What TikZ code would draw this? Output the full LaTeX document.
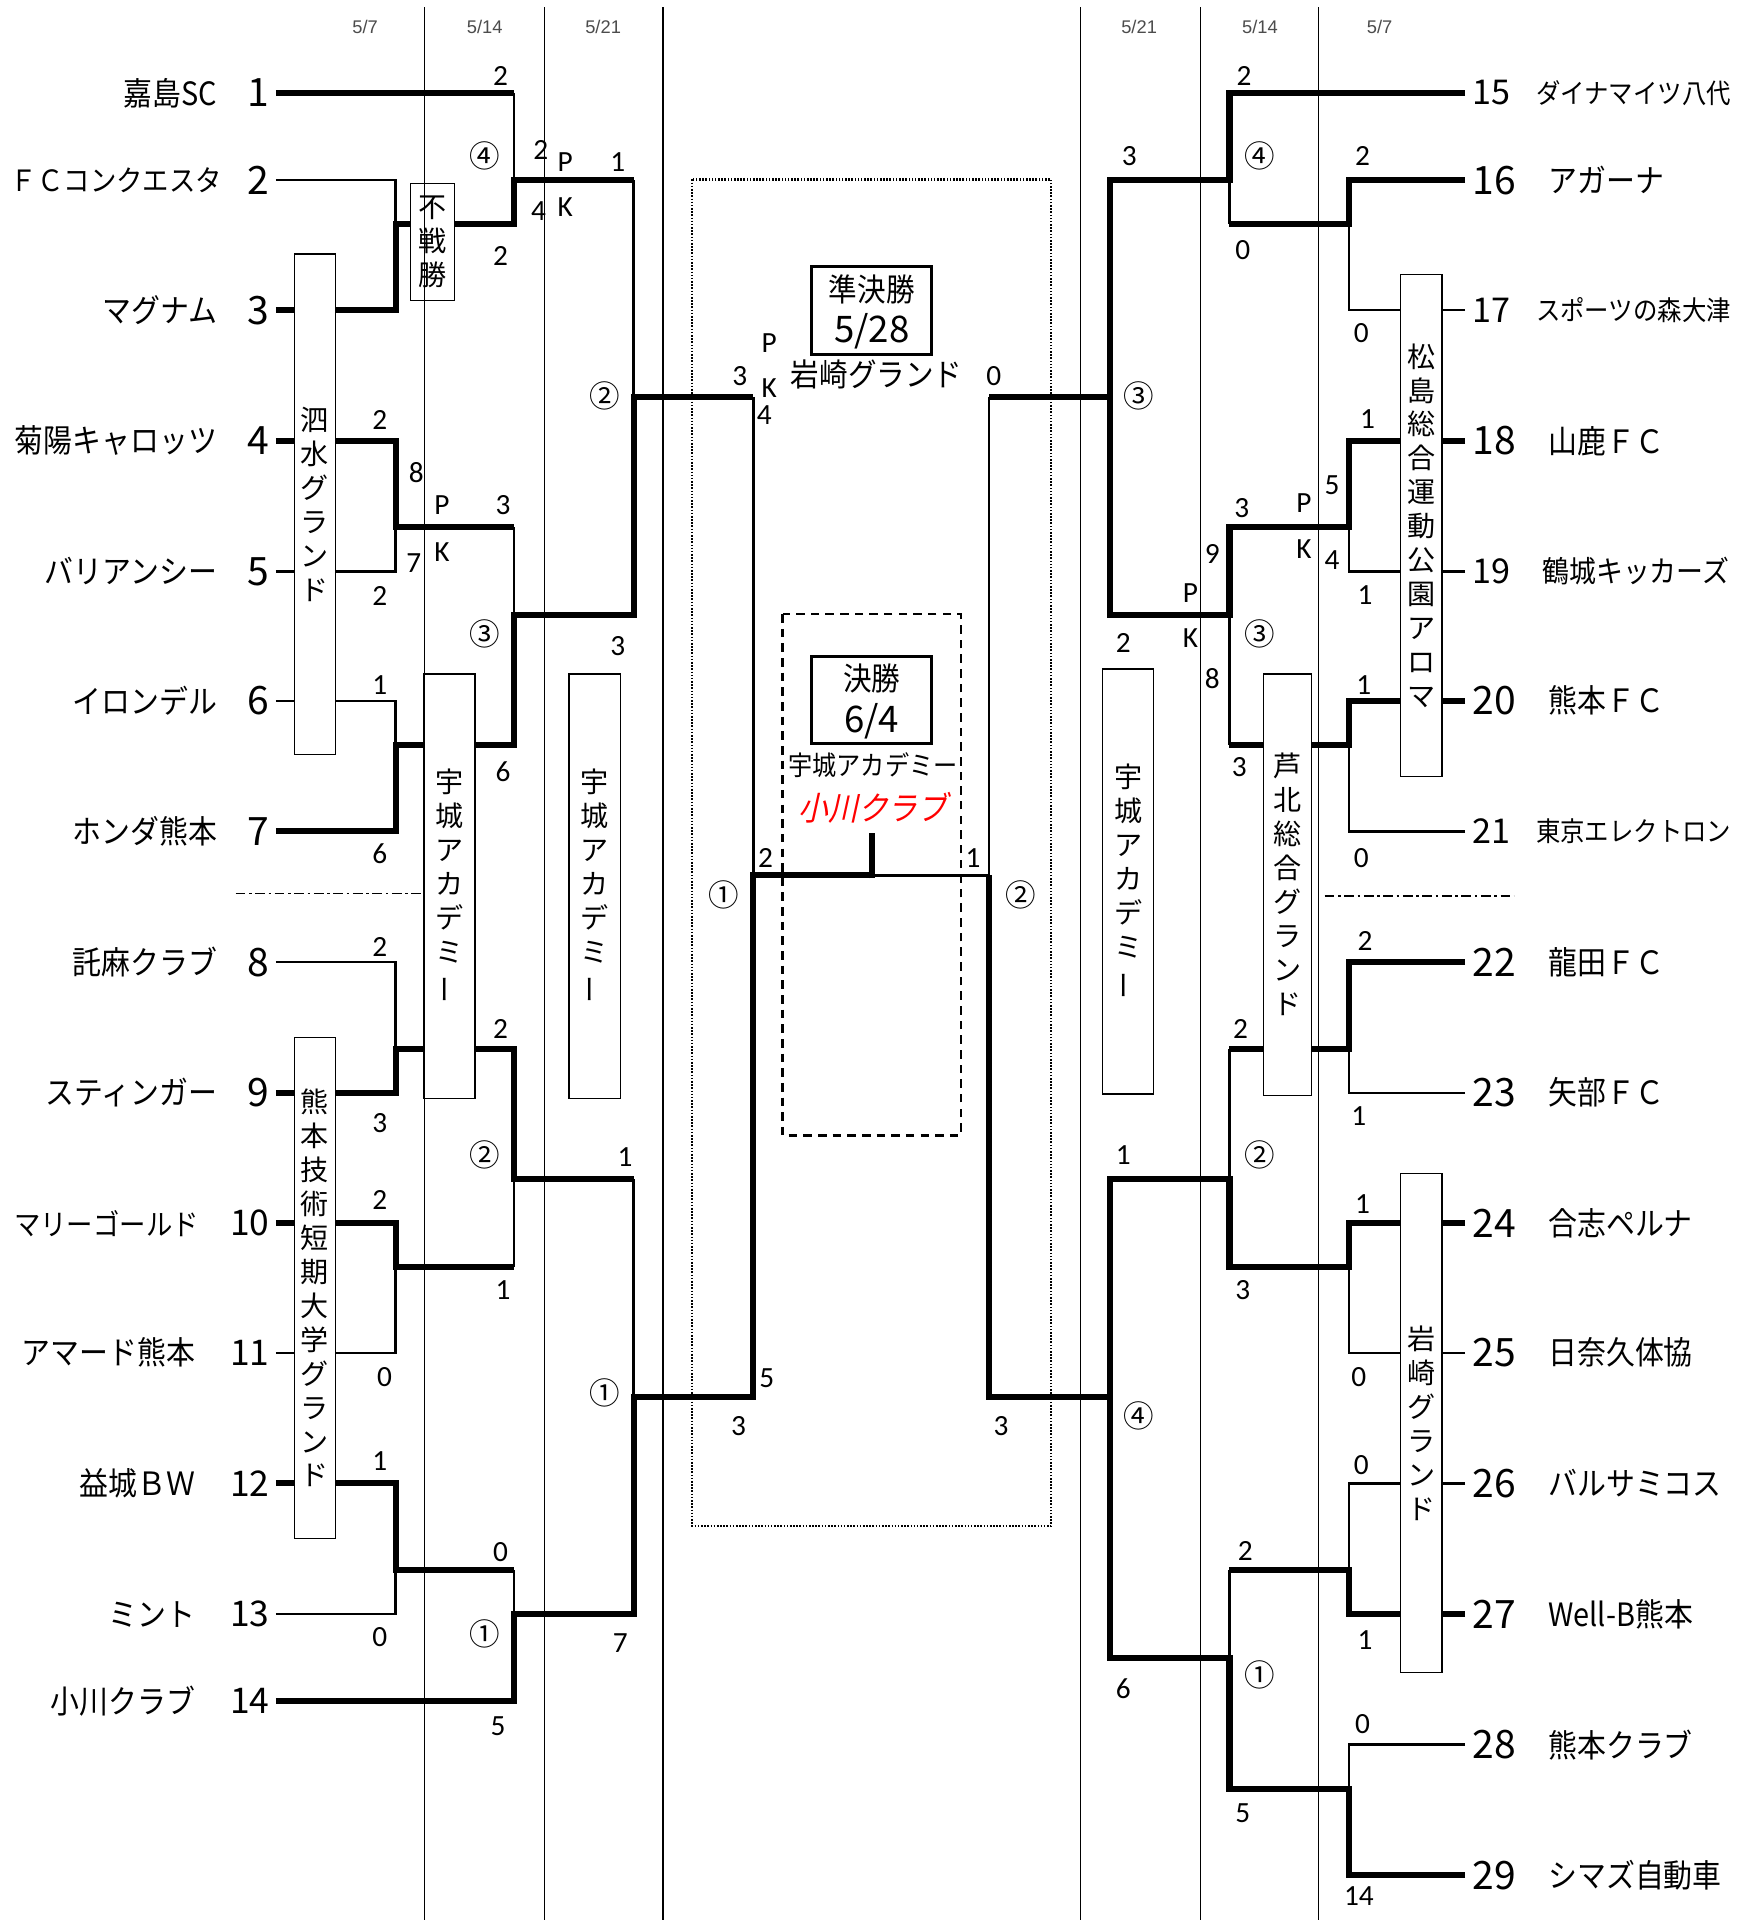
\documentclass[tikz,border=0pt]{standalone}
\usepackage{fontspec}
\newfontfamily\jp[FakeStretch=0.9]{Noto Sans CJK JP}
\newfontfamily\jpn{Noto Sans CJK JP}
\newfontfamily\jpred[FakeStretch=0.9,FakeSlant=0.22]{Noto Sans CJK JP}
\newfontfamily\scorefont{Carlito}
\newfontfamily\datefont{Liberation Sans}
\newcommand\tatebou{\rotatebox[origin=c]{90}{ー}}
\tikzset{
  thk/.style={line width=5pt, line join=miter},
  thn/.style={line width=2pt},
  gridln/.style={line width=1pt},
  vbox/.style={draw, line width=1pt, fill=white, inner sep=0pt, align=center, font={\jpn\fontsize{23}{27.8}\selectfont}},
  nmL/.style={font={\jp\fontsize{26.3}{30}\selectfont}, inner sep=0pt, anchor=east},
  nmLs/.style={font={\jp\fontsize{24}{28}\selectfont}, inner sep=0pt, anchor=east},
  nmR/.style={font={\jp\fontsize{26.3}{30}\selectfont}, inner sep=0pt, anchor=west},
  nmRm/.style={font={\jp\fontsize{24.5}{28}\selectfont}, inner sep=0pt, anchor=west},
  nmRs/.style={font={\jp\fontsize{22.2}{26}\selectfont}, inner sep=0pt, anchor=west},
  numL/.style={font={\jpn\fontsize{32}{34}\selectfont}, inner sep=0pt, anchor=east},
  numLs/.style={font={\jpn\fontsize{29}{31}\selectfont}, inner sep=0pt, anchor=east},
  numR/.style={font={\jpn\fontsize{32}{34}\selectfont}, inner sep=0pt, anchor=west},
  numRs/.style={font={\jpn\fontsize{28}{30}\selectfont}, inner sep=0pt, anchor=west},
  sc/.style={font={\scorefont\fontsize{24}{26}\selectfont}, inner sep=0pt},
  cir/.style={font={\jpn\fontsize{25}{27}\selectfont}, inner sep=0pt},
  datel/.style={font={\datefont\fontsize{15}{17}\selectfont}, text=black!70, inner sep=0pt},
  hbox/.style={draw, line width=2.5pt, inner sep=0pt, minimum width=98pt},
  dashdot/.style={line width=1.2pt, dash pattern=on 8pt off 3pt on 2pt off 3pt},
}
\begin{document}
\begin{tikzpicture}[x=1pt,y=-1pt]
\useasboundingbox (0,0) rectangle (1440,1572.6);
\fill[white] (0,0) rectangle (1440,1572.6);

% ---------------- left bracket ----------------
\draw[thk] (226,76) -- (421,76);
\draw[thn] (421,76) -- (421,147.5);
\draw[thn] (226,147.5) -- (324,147.5) -- (324,183.5);
\draw[thk] (226,254) -- (324,254) -- (324,183.5) -- (421,183.5) -- (421,147.5) -- (519,147.5);
\draw[thn] (519,147.5) -- (519,325);
\draw[thk] (226,361) -- (324,361) -- (324,432) -- (421,432);
\draw[thn] (226,468) -- (324,468) -- (324,432);
\draw[thn] (421,432) -- (421,504);
\draw[thn] (226,574) -- (324,574) -- (324,610);
\draw[thk] (226,681) -- (324,681) -- (324,610) -- (421,610) -- (421,504) -- (519,504) -- (519,325) -- (617,325);
\draw[thn] (617,325) -- (617,717);
\draw[thn] (226,788) -- (324,788) -- (324,859);
\draw[thk] (226,895) -- (324,895) -- (324,859) -- (421,859) -- (421,966) -- (519,966);
\draw[thn] (519,966) -- (519,1144);
\draw[thk] (226,1002) -- (324,1002) -- (324,1038) -- (421,1038);
\draw[thn] (421,1038) -- (421,966);
\draw[thn] (226,1108) -- (324,1108) -- (324,1038);
\draw[thk] (226,1215) -- (324,1215) -- (324,1286) -- (421,1286);
\draw[thn] (226,1322) -- (324,1322) -- (324,1286);
\draw[thn] (421,1286) -- (421,1322);
\draw[thk] (226,1393) -- (421,1393) -- (421,1322) -- (519,1322) -- (519,1144) -- (617,1144) -- (617,717) -- (714,717);
\draw[thk] (714,719.5) -- (714,682);
\draw[thn] (714,717) -- (810,717);

% ---------------- right bracket ----------------
\draw[thk] (1200,76) -- (1007,76) -- (1007,147.5) -- (909,147.5) -- (909,325) -- (810,325);
\draw[thn] (1007,147.5) -- (1007,183.5);
\draw[thk] (1200,147.5) -- (1105,147.5) -- (1105,183.5) -- (1007,183.5);
\draw[thn] (1200,254) -- (1105,254) -- (1105,183.5);
\draw[thn] (810,325) -- (810,717);
\draw[thk] (1200,361) -- (1105,361) -- (1105,432) -- (1007,432) -- (1007,504) -- (909,504) -- (909,325);
\draw[thn] (1200,468) -- (1105,468) -- (1105,432);
\draw[thn] (1007,504) -- (1007,610);
\draw[thk] (1200,574) -- (1105,574) -- (1105,610) -- (1007,610);
\draw[thn] (1200,681) -- (1105,681) -- (1105,610);
\draw[thk] (1200,788) -- (1105,788) -- (1105,859) -- (1007,859);
\draw[thn] (1200,895) -- (1105,895) -- (1105,859);
\draw[thn] (1007,859) -- (1007,966);
\draw[thk] (1200,1002) -- (1105,1002) -- (1105,1038) -- (1007,1038) -- (1007,966) -- (909,966) -- (909,1144);
\draw[thn] (1200,1108) -- (1105,1108) -- (1105,1038);
\draw[thn] (1200,1215) -- (1105,1215) -- (1105,1286);
\draw[thk] (1200,1322) -- (1105,1322) -- (1105,1286) -- (1007,1286);
\draw[thn] (1007,1286) -- (1007,1358);
\draw[thn] (1200,1429) -- (1105,1429) -- (1105,1465);
\draw[thk] (1200,1536) -- (1105,1536) -- (1105,1465) -- (1007,1465) -- (1007,1358) -- (909,1358) -- (909,1144) -- (810,1144) -- (810,717);

% ---------------- central frames ----------------
\draw[line width=2pt, dash pattern=on 1.3pt off 1.3pt] (567,147) rectangle (861,1250);
\draw[line width=2pt, dash pattern=on 7pt off 5pt] (641,503) rectangle (787,930);
\draw[dashdot] (193,732) -- (347,732);
\draw[dashdot] (1085,734) -- (1240,734);

% ---------------- venue boxes ----------------
\node[vbox, minimum width=36pt, minimum height=96pt] (bxA) at (354,198) {不\\戦\\勝};
\node[vbox, minimum width=34pt, minimum height=410pt] (bxB) at (258,413) {泗\\水\\グ\\ラ\\ン\\ド};
\node[vbox, minimum width=42pt, minimum height=348pt] (bxC) at (368,726) {宇\\城\\ア\\カ\\デ\\ミ\\\tatebou};
\node[vbox, minimum width=42pt, minimum height=348pt] (bxD) at (487,726) {宇\\城\\ア\\カ\\デ\\ミ\\\tatebou};
\node[vbox, minimum width=34pt, minimum height=410pt] (bxE) at (258,1055) {熊\\本\\技\\術\\短\\期\\大\\学\\グ\\ラ\\ン\\ド};
\node[vbox, minimum width=34pt, minimum height=411pt] (bxF) at (1164,430.5) {松\\島\\総\\合\\運\\動\\公\\園\\ア\\ロ\\マ};
\node[vbox, minimum width=39pt, minimum height=345pt] (bxG) at (1054.5,724.5) {芦\\北\\総\\合\\グ\\ラ\\ン\\ド};
\node[vbox, minimum width=42pt, minimum height=348pt] (bxH) at (924,722) {宇\\城\\ア\\カ\\デ\\ミ\\\tatebou};
\node[vbox, minimum width=34pt, minimum height=409pt] (bxI) at (1164,1165.5) {岩\\崎\\グ\\ラ\\ン\\ド};

% ---------------- grid lines ----------------
\foreach \gx in {348,446,543,885,983,1080} \draw[gridln] (\gx,6) -- (\gx,1572.6);

% ---------------- dates ----------------
\node[datel] (d1) at (299,22) {5/7};
\node[datel] (d2) at (397,22) {5/14};
\node[datel] (d3) at (494,22) {5/21};
\node[datel] (d4) at (933,22) {5/21};
\node[datel] (d5) at (1032,22) {5/14};
\node[datel] (d6) at (1130,22) {5/7};

% ---------------- semifinal / final ----------------
\node[hbox, minimum height=72pt] (sfbox) at (714,254) {};
\node[font={\jp\fontsize{26}{30}\selectfont}, inner sep=0pt] (sft) at (714,237) {準決勝};
\node[font={\jpn\fontsize{30}{32}\selectfont}, inner sep=0pt] (sfd) at (714,271) {5/28};
\node[font={\jp\fontsize{26}{30}\selectfont}, inner sep=0pt] (sfv) at (718,307) {岩崎グランド};
\node[hbox, minimum height=71pt] (fbox) at (714,573.5) {};
\node[font={\jp\fontsize{26}{30}\selectfont}, inner sep=0pt] (ft) at (714,556) {決勝};
\node[font={\jpn\fontsize{30}{32}\selectfont}, inner sep=0pt] (fd) at (714,591) {6/4};
\node[font={\jp\fontsize{22}{26}\selectfont}, inner sep=0pt] (fv) at (715,627) {宇城アカデミー};
\node[font={\jpred\fontsize{27}{30}\selectfont}, text=red, inner sep=0pt] (fw) at (715,662) {小川クラブ};

% ---------------- teams ----------------
\foreach \i/\y/\x/\nm/\st in {1/76/178/嘉島SC/nmL, 2/147.5/182/ＦＣコンクエスタ/nmLs, 3/254/178/マグナム/nmL,
  4/361/178/菊陽キャロッツ/nmL, 5/468/178/バリアンシー/nmL, 6/574/178/イロンデル/nmL, 7/681/178/ホンダ熊本/nmL,
  8/788/178/託麻クラブ/nmL, 9/895/178/スティンガー/nmL, 10/1002/163/マリーゴールド/nmLs, 11/1108/160/アマード熊本/nmL,
  12/1215/160/益城ＢＷ/nmL, 13/1322/160/ミント/nmL, 14/1393/160/小川クラブ/nmL,
  15/76/1258/ダイナマイツ八代/nmRs, 16/147.5/1268/アガーナ/nmR, 17/254/1258/スポーツの森大津/nmRs,
  18/361/1268/山鹿ＦＣ/nmR, 19/468/1263/鶴城キッカーズ/nmRm, 20/574/1268/熊本ＦＣ/nmR, 21/681/1258/東京エレクトロン/nmRs,
  22/788/1268/龍田ＦＣ/nmR, 23/895/1268/矢部ＦＣ/nmR, 24/1002/1268/合志ペルナ/nmR, 25/1108/1268/日奈久体協/nmR,
  26/1215/1268/バルサミコス/nmR, 27/1322/1268/Well-B熊本/nmR, 28/1429/1268/熊本クラブ/nmR, 29/1536/1268/シマズ自動車/nmR}
  \node[\st] (name\i) at (\x,\y) {\nm};
\foreach \i/\y/\x/\st in {1/76/221/numL, 2/147.5/221/numL, 3/254/221/numL, 4/361/221/numL, 5/468/221/numL,
  6/574/221/numL, 7/681/221/numL, 8/788/221/numL, 9/895/221/numL, 10/1002/221/numLs, 11/1108/221/numLs,
  12/1215/221/numLs, 13/1322/221/numLs, 14/1393/221/numLs,
  15/76/1206/numRs, 16/147.5/1206/numR, 17/254/1206/numRs, 18/361/1206/numR, 19/468/1206/numRs, 20/574/1206/numR,
  21/681/1206/numRs, 22/788/1206/numR, 23/895/1206/numR, 24/1002/1206/numR, 25/1108/1206/numR, 26/1215/1206/numR,
  27/1322/1206/numR, 28/1429/1206/numR, 29/1536/1206/numR}
  \node[\st] (num\i) at (\x,\y) {\i};

% ---------------- scores ----------------
\foreach \x/\y/\t [count=\i] in {410/62/2, 443/123/2, 463/133/P, 506/133/1, 441/173/4, 463/170/K, 410/210/2,
  311/344/2, 341/387/8, 362/414/P, 412/414/3, 362/452/K, 339/461/7, 311/488/2,
  506/529/3, 311/561/1, 412/632/6, 311/699/6,
  311/776/2, 410/843/2, 311/920/3, 512/948/1, 311/983/2, 412/1057/1, 315/1128/0,
  311/1197/1, 410/1271/0, 311/1341/0, 508/1346/7, 408/1414/5,
  606/308/3, 630/281/P, 630/318/K, 626/340/4, 628/1129/5, 605/1168/3, 814/308/0, 820/1168/3, 627/703/2, 797/703/1,
  1019/62/2, 925/128/3, 1116/128/2, 1018/205/0, 1115/273/0,
  1120/343/1, 1091/397/5, 1068/412/P, 1017/416/3, 1068/450/K, 1091/459/4, 993/454/9, 1118/487/1, 975/486/P,
  975/523/K, 920/527/2, 993/556/8, 1117/561/1, 1015/628/3, 1115/703/0,
  1118/771/2, 1016/843/2, 1113/914/1, 920/946/1, 1116/986/1, 1018/1057/3, 1113/1128/0, 1115/1200/0,
  1020/1270/2, 1118/1343/1, 920/1383/6, 1116/1412/0, 1018/1485/5, 1113/1553/14}
  \node[sc] (s\i) at (\x,\y) {\t};

% ---------------- circled match numbers ----------------
\foreach \x/\y/\t [count=\i] in {397/128/④, 495/324/②, 397/519/③, 397/946/②, 495/1141/①, 397/1338/①,
  593/733/①, 836/733/②, 1032/128/④, 933/324/③, 1032/519/③, 1032/946/②, 933/1160/④, 1032/1372/①}
  \node[cir] (c\i) at (\x,\y) {\t};
\end{tikzpicture}
\end{document}
